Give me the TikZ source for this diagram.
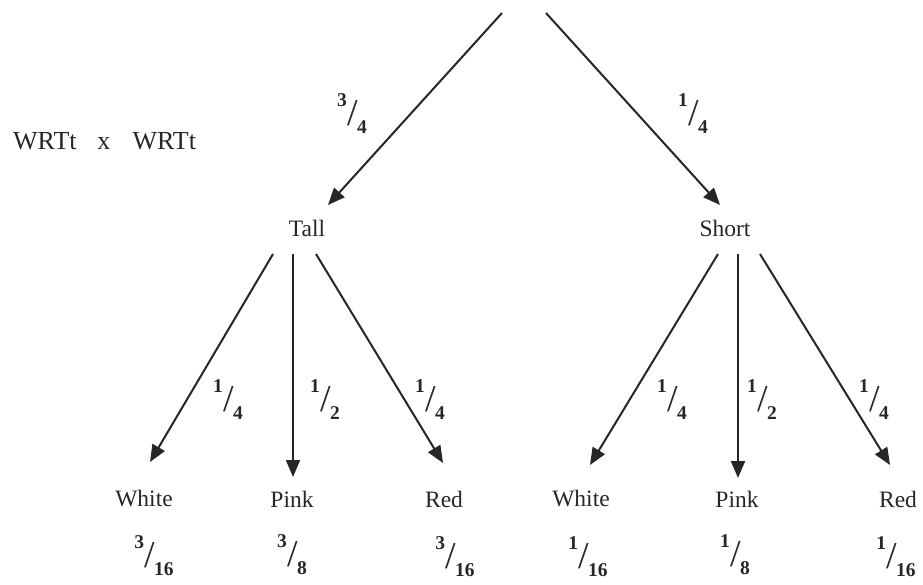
\documentclass[tikz,border=0pt]{standalone}
\usepackage{fontspec}
\setmainfont{Liberation Serif}
\usetikzlibrary{arrows.meta,calc}
\definecolor{ink}{HTML}{262626}
\newcommand\pfrac[2]{\raisebox{19pt}{\fontsize{19.5}{19.5}\selectfont\bfseries #1}\kern0.5pt{\fontsize{38}{38}\selectfont /}\kern-1pt\raisebox{-8pt}{\fontsize{19.5}{19.5}\selectfont\bfseries #2}}
\begin{document}
\begin{tikzpicture}[x=1pt,y=-1pt,
  conn/.style={draw=ink, line width=2pt, -{Triangle[length=17pt,width=14pt]}},
  lbl/.style={font=\fontsize{23.5}{24}\selectfont, text=ink, inner sep=0pt},
  prob/.style={inner sep=0pt, text=ink}]
\useasboundingbox (0,0) rectangle (923,584);
\node[lbl, font=\fontsize{26}{26}\selectfont, anchor=west] (cross) at (13,141) {WRTt\hspace{0.8em}x\hspace{0.85em}WRTt};
\coordinate (top) at (524,13);
\node[lbl] (Tall) at (307,228) {Tall};
\node[lbl] (Short) at (725,228) {Short};
\node[lbl] (W1) at (144,499) {White};
\node[lbl] (P1) at (292,499) {Pink};
\node[lbl] (R1) at (444,499) {Red};
\node[lbl] (W2) at (581,499) {White};
\node[lbl] (P2) at (737,499) {Pink};
\node[lbl] (R2) at (898,499) {Red};
% top arrows
\draw[conn] ($(top)+(-22,0)$) -- ($(Tall)+(21,-23)$);
\draw[conn] ($(top)+(22,0)$) -- ($(Short)+(-5,-23)$);
\node[prob] (pT) at (352,114) {\pfrac{3}{4}};
\node[prob] (pS) at (693,114) {\pfrac{1}{4}};
% Tall branches
\draw[conn] ($(Tall)+(-34,26)$) -- ($(W1)+(6,-37)$);
\draw[conn] ($(Tall)+(-14,26)$) -- ($(P1)+(1,-22)$);
\draw[conn] ($(Tall)+(9,26)$) -- ($(R1)+(-1,-36)$);
\node[prob] (pTW) at (228,400) {\pfrac{1}{4}};
\node[prob] (pTP) at (325,400) {\pfrac{1}{2}};
\node[prob] (pTR) at (430,400) {\pfrac{1}{4}};
% Short branches
\draw[conn] ($(Short)+(-7,26)$) -- ($(W2)+(9,-34)$);
\draw[conn] ($(Short)+(13,26)$) -- ($(P2)+(1,-21)$);
\draw[conn] ($(Short)+(35,26)$) -- ($(R2)+(-8,-34)$);
\node[prob] (pSW) at (672,400) {\pfrac{1}{4}};
\node[prob] (pSP) at (762,400) {\pfrac{1}{2}};
\node[prob] (pSR) at (874,400) {\pfrac{1}{4}};
% products
\node[prob] (fTW) at (154,556) {\pfrac{3}{16}};
\node[prob] (fTP) at (292,555) {\pfrac{3}{8}};
\node[prob] (fTR) at (455,557) {\pfrac{3}{16}};
\node[prob] (fSW) at (588,557) {\pfrac{1}{16}};
\node[prob] (fSP) at (735,555) {\pfrac{1}{8}};
\node[prob] (fSR) at (896,557) {\pfrac{1}{16}};
\end{tikzpicture}
\end{document}
